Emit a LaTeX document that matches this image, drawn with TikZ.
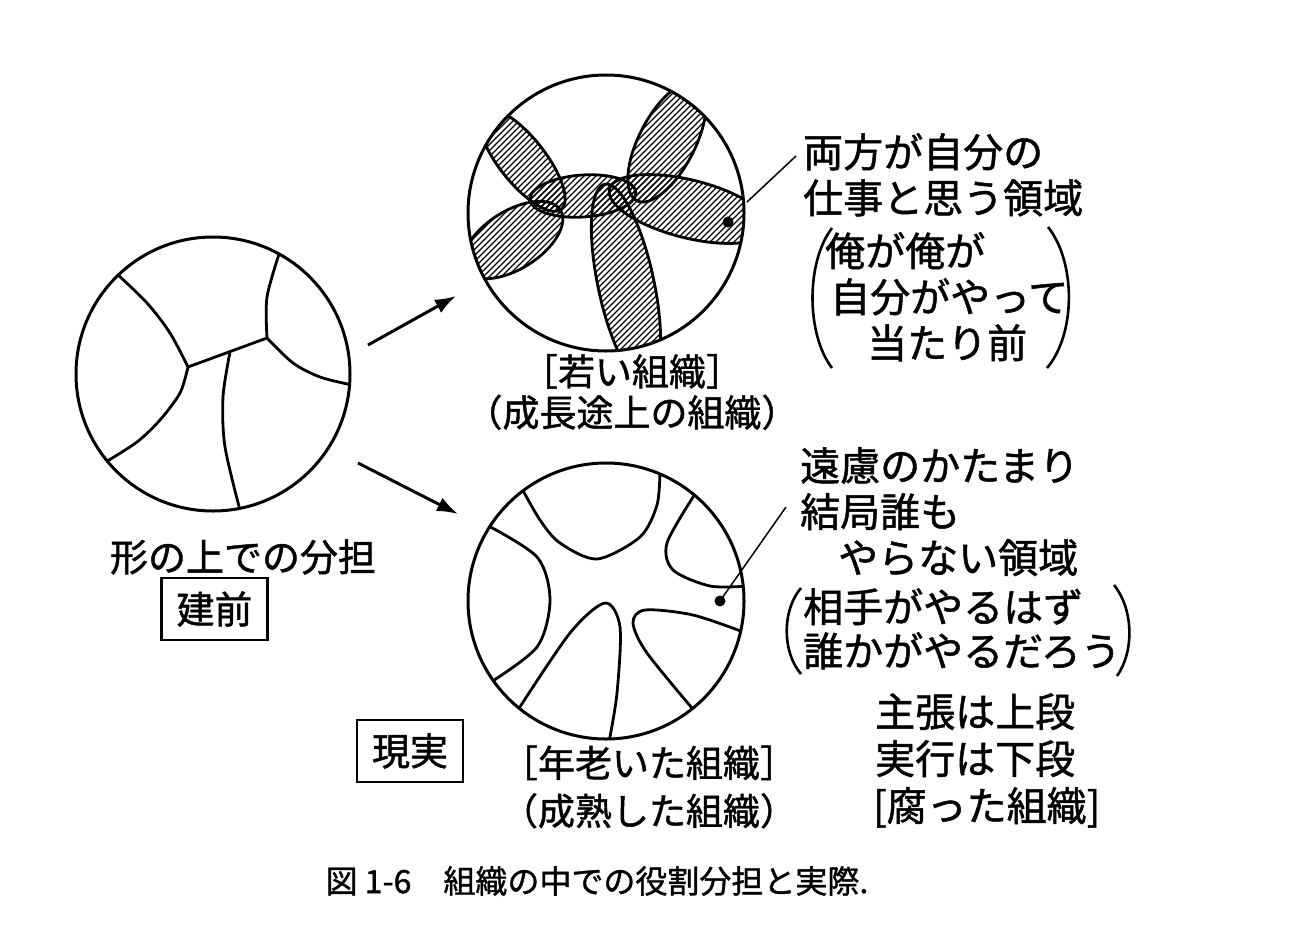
\documentclass[tikz,border=0pt]{standalone}
\usepackage{fontspec}
\setmainfont{Noto Sans CJK JP}[BoldFont={Noto Sans CJK JP},BoldFeatures={FakeBold=1.2}]
\usetikzlibrary{arrows.meta}

\begin{document}
\begin{tikzpicture}[x=1pt,y=-1pt,
    rim/.style={line width=3pt},
    part/.style={line width=2.8pt},
    hatch/.style={line width=1.3pt},
    paren/.style={line width=2.6pt},
    leader/.style={line width=1.5pt},
    arrow/.style={-{Latex[length=21pt,width=15pt]},line width=3pt},
    lbl/.style={inner sep=0pt,align=center,font=\fontsize{38}{44}\selectfont\bfseries},
    note/.style={inner sep=0pt,align=left,anchor=north west,font=\fontsize{40}{46}\selectfont\bfseries},
    tag/.style={draw,line width=2.4pt,inner sep=0pt,minimum width=106pt,minimum height=62pt,font=\fontsize{38}{44}\selectfont\bfseries}
  ]
  \useasboundingbox (0,0) rectangle (1294,948);
  \coordinate (planC) at (213,374);
  \coordinate (youngC) at (606,213);
  \coordinate (oldC) at (606,601);

  % formal split
  \begin{scope}
    \clip (planC) circle[radius=137];
    \draw[part] plot[smooth] coordinates {(116,273) (147,303) (170,333) (188,367)};
    \draw[part] plot[smooth] coordinates {(188,367) (180,393) (160,420) (137,442) (104,463)};
    \draw[part] (188,367) -- (267,338);
    \draw[part] plot[smooth] coordinates {(230,352) (223,397) (225,447) (241,514)};
    \draw[part] plot[smooth] coordinates {(267,338) (267,297) (280,251)};
    \draw[part] plot[smooth] coordinates {(267,338) (293,363) (320,377) (352,385)};
  \end{scope}
  \draw[rim] (planC) circle[radius=137];

  % young organisation
  \begin{scope}
    \clip (youngC) circle[radius=138];
    \foreach \cx/\cy/\ang/\ra/\rb in {522/160/128.5/63/23, 513/240/32.3/56/29,
        583/196/3.9/53/21, 626/284/-78/102/28, 667/142/62.7/66/28, 689/209/-14/82/29}{
      \begin{scope}
        \clip[rotate around={\ang:(\cx,\cy)}] (\cx,\cy) ellipse[x radius=\ra, y radius=\rb];
        \foreach \s in {520,526,...,1130}
          \draw[hatch] (\s-370,370) -- (\s-60,60);
      \end{scope}
      \draw[part,rotate around={\ang:(\cx,\cy)}] (\cx,\cy) ellipse[x radius=\ra, y radius=\rb];
    }
  \end{scope}
  \draw[rim] (youngC) circle[radius=138];
  \coordinate (dotA) at (728,222);
  \fill (dotA) circle[radius=5.5];

  % old organisation
  \begin{scope}
    \clip (oldC) circle[radius=138];
    \draw[part] plot[smooth] coordinates {(520,485) (540,520) (560,543) (597,559) (640,537) (657,505) (660,470)};
    \draw[part] plot[smooth] coordinates {(695,494) (667,543) (673,570) (710,586) (748,586)};
    \draw[part] plot[smooth] coordinates {(485,524) (537,557) (550,600) (537,647) (488,684)};
    \draw[part] plot[smooth] coordinates {(516,713) (570,633) (605,603) (620,627) (617,693) (609,742)};
    \draw[part] plot[smooth] coordinates {(746,633) (693,615) (645,610) (633,623) (647,653) (697,714)};
  \end{scope}
  \draw[rim] (oldC) circle[radius=138];
  \coordinate (dotB) at (720,601);
  \fill (dotB) circle[radius=5.5];

  % arrows
  \coordinate (toYoungS) at (368,345);
  \coordinate (toYoungE) at (456,296);
  \coordinate (toOldS) at (358,463);
  \coordinate (toOldE) at (458,514);
  \draw[arrow] (toYoungS) -- (toYoungE);
  \draw[arrow] (toOldS) -- (toOldE);

  % labels
  \node[lbl] (katachi) at (243,557) {形の上での分担};
  \node[tag] (tatemae) at (214.5,609) {建前};
  \node[tag] (genjitsu) at (410,751) {現実};
  \node[lbl,font=\fontsize{37}{41}\selectfont\bfseries] (young) at (632,392) {［若い組織］\\（成長途上の組織）};
  \node[lbl,font=\fontsize{37}{48}\selectfont\bfseries] (old) at (649,787) {［年老いた組織］\\（成熟した組織）};

  \node[note] (both) at (803,133) {両方が自分の\\仕事と思う領域};
  \node[note] (ore) at (825,232) {俺が俺が\\\hspace*{5pt}自分がやって\\\hspace*{42pt}当たり前};
  \draw[paren] (832,228) .. controls (806,262) and (806,334) .. (832,368);
  \draw[paren] (1048,227) .. controls (1076,262) and (1076,334) .. (1047,368);

  \node[note] (enryo) at (800,447) {遠慮のかたまり\\結局誰も\\\hspace*{38pt}やらない領域};
  \node[note,font=\fontsize{40}{44}\selectfont\bfseries] (aite) at (803,588) {相手がやるはず\\誰かがやるだろう};
  \draw[paren] (801,588) .. controls (782,610) and (782,652) .. (801,674);
  \draw[paren] (1114,585) .. controls (1134,610) and (1134,652) .. (1117,676);
  \node[note,font=\fontsize{40}{47}\selectfont\bfseries] (shucho) at (873,693) {\hspace*{2pt}主張は上段\\\hspace*{2pt}実行は下段\\{[}腐った組織{]}};

  % leaders
  \coordinate (leadA) at (747,202);
  \coordinate (leadAend) at (796,156);
  \coordinate (leadBend) at (786,507);
  \draw[leader] (leadA) -- (leadAend);
  \draw[leader] (dotB) -- (leadBend);

  \node[inner sep=0pt,font=\fontsize{32}{36}\selectfont\bfseries] (caption) at (597,881) {図 1-6　組織の中での役割分担と実際.};
\end{tikzpicture}
\end{document}
